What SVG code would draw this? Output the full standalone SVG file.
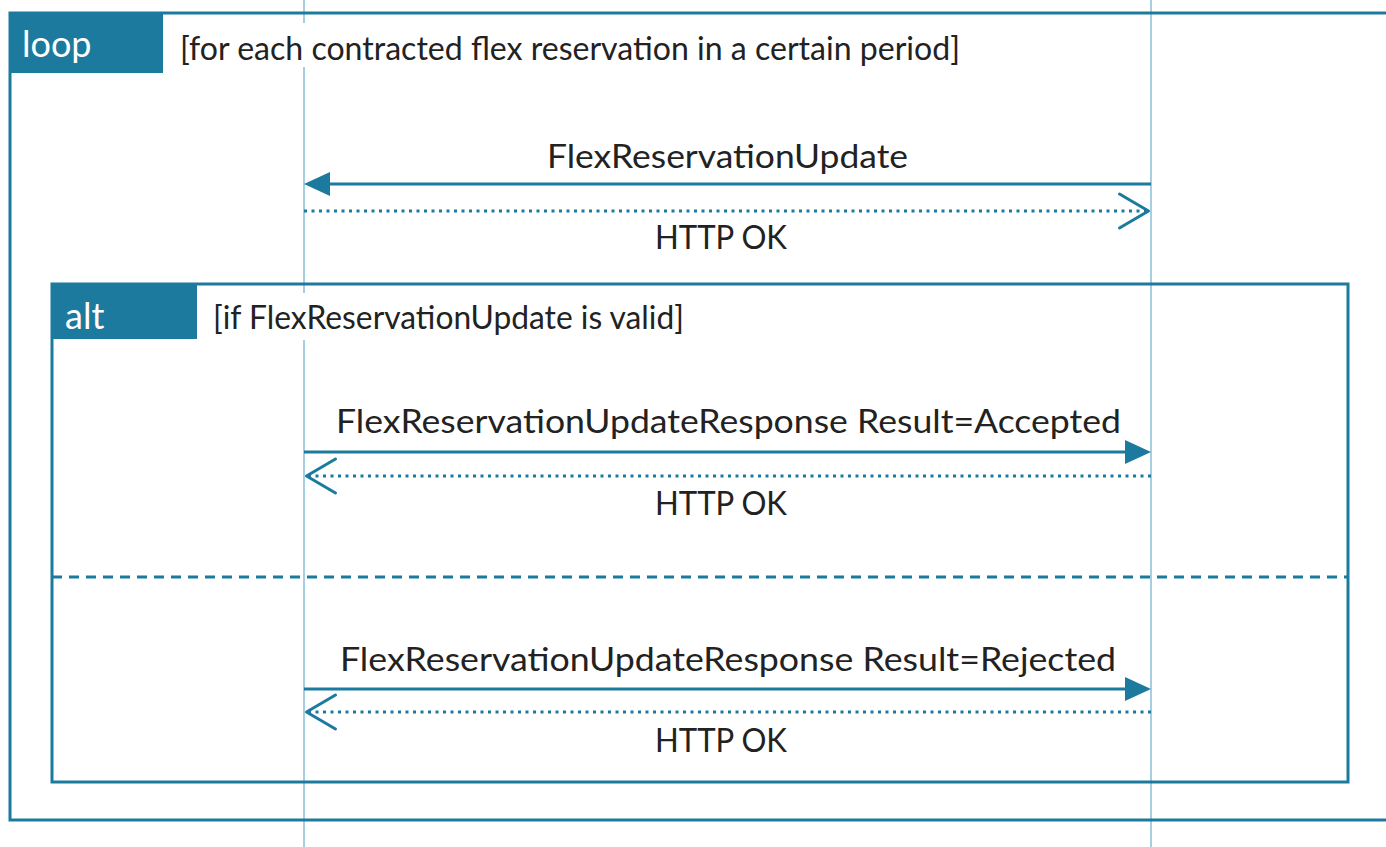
<svg xmlns="http://www.w3.org/2000/svg" width="1386" height="847" viewBox="0 0 1386 847">
  <style>
    .frame { fill: none; stroke: #1b7a9e; stroke-width: 3; }
    .tab { fill: #1b7a9e; }
    .tabtxt { font-family: Lato, "Open Sans", "Liberation Sans", sans-serif; fill: #ffffff; font-size: 36px; }
    .txt { font-family: Lato, "Open Sans", "Liberation Sans", sans-serif; fill: #222222; font-size: 32px; }
    .life { stroke: #88c0d8; stroke-width: 1.5; }
    .msg { stroke: #1b7a9e; stroke-width: 3; fill: none; }
    .ret { stroke: #1b7a9e; stroke-width: 3; fill: none; stroke-dasharray: 3 4.5; }
    .sep { stroke: #1b7a9e; stroke-width: 3; stroke-dasharray: 10 7; }
    .bg { fill: #ffffff; }
  </style>
  <defs>
    <marker id="filled" markerUnits="userSpaceOnUse" viewBox="0 0 26 24" refX="22" refY="12" markerWidth="26" markerHeight="24" orient="auto">
      <path d="M0,0 L26,12 L0,24 Z" fill="#1b7a9e"/>
    </marker>
    <marker id="open" markerUnits="userSpaceOnUse" viewBox="-3 -3 38 40" refX="30.5" refY="17" markerWidth="38" markerHeight="40" orient="auto">
      <path d="M0,0 L29,17 L0,34" fill="none" stroke="#1b7a9e" stroke-width="3" stroke-dasharray="none" stroke-linejoin="round" stroke-linecap="round"/>
    </marker>
  </defs>

  <rect width="1386" height="847" fill="#ffffff"/>

  <g id="lifelines">
    <line class="life" x1="304" y1="0" x2="304" y2="847"/>
    <line class="life" x1="1151" y1="0" x2="1151" y2="847"/>
  </g>

  <g id="loop-frame">
    <rect class="frame" x="10" y="13" width="1400" height="807"/>
    <rect class="tab" x="10" y="13" width="153" height="60"/>
    <text class="tabtxt" x="22" y="57">loop</text>
    <rect class="bg" x="172" y="23" width="796" height="44"/>
    <text class="txt" x="180" y="60" textLength="780" lengthAdjust="spacingAndGlyphs">[for each contracted flex reservation in a certain period]</text>
  </g>

  <g id="alt-frame">
    <rect class="frame" x="52" y="284" width="1296" height="498"/>
    <rect class="tab" x="52" y="284" width="145" height="55"/>
    <text class="tabtxt" x="65" y="329">alt</text>
    <rect class="bg" x="205" y="293" width="486" height="47"/>
    <text class="txt" x="213" y="329" textLength="471" lengthAdjust="spacingAndGlyphs">[if FlexReservationUpdate is valid]</text>
    <line class="sep" x1="52" y1="577" x2="1348" y2="577"/>
  </g>

  <g id="connectors">
    <line class="msg" x1="1151" y1="184" x2="308" y2="184" marker-end="url(#filled)"/>
    <line class="ret" x1="304" y1="211" x2="1150" y2="211" marker-end="url(#open)"/>
    <line class="msg" x1="304" y1="452" x2="1147" y2="452" marker-end="url(#filled)"/>
    <line class="ret" x1="1151" y1="476" x2="305" y2="476" marker-end="url(#open)"/>
    <line class="msg" x1="304" y1="689" x2="1147" y2="689" marker-end="url(#filled)"/>
    <line class="ret" x1="1151" y1="712" x2="305" y2="712" marker-end="url(#open)"/>
  </g>

  <g id="labels">
    <text class="txt" x="547" y="168" textLength="361" lengthAdjust="spacingAndGlyphs">FlexReservationUpdate</text>
    <text class="txt" x="655" y="249" textLength="132" lengthAdjust="spacingAndGlyphs">HTTP OK</text>
    <text class="txt" x="336" y="433" textLength="785" lengthAdjust="spacingAndGlyphs">FlexReservationUpdateResponse Result=Accepted</text>
    <text class="txt" x="655" y="515" textLength="132" lengthAdjust="spacingAndGlyphs">HTTP OK</text>
    <text class="txt" x="340" y="671" textLength="776" lengthAdjust="spacingAndGlyphs">FlexReservationUpdateResponse Result=Rejected</text>
    <text class="txt" x="655" y="752" textLength="132" lengthAdjust="spacingAndGlyphs">HTTP OK</text>
  </g>
</svg>
